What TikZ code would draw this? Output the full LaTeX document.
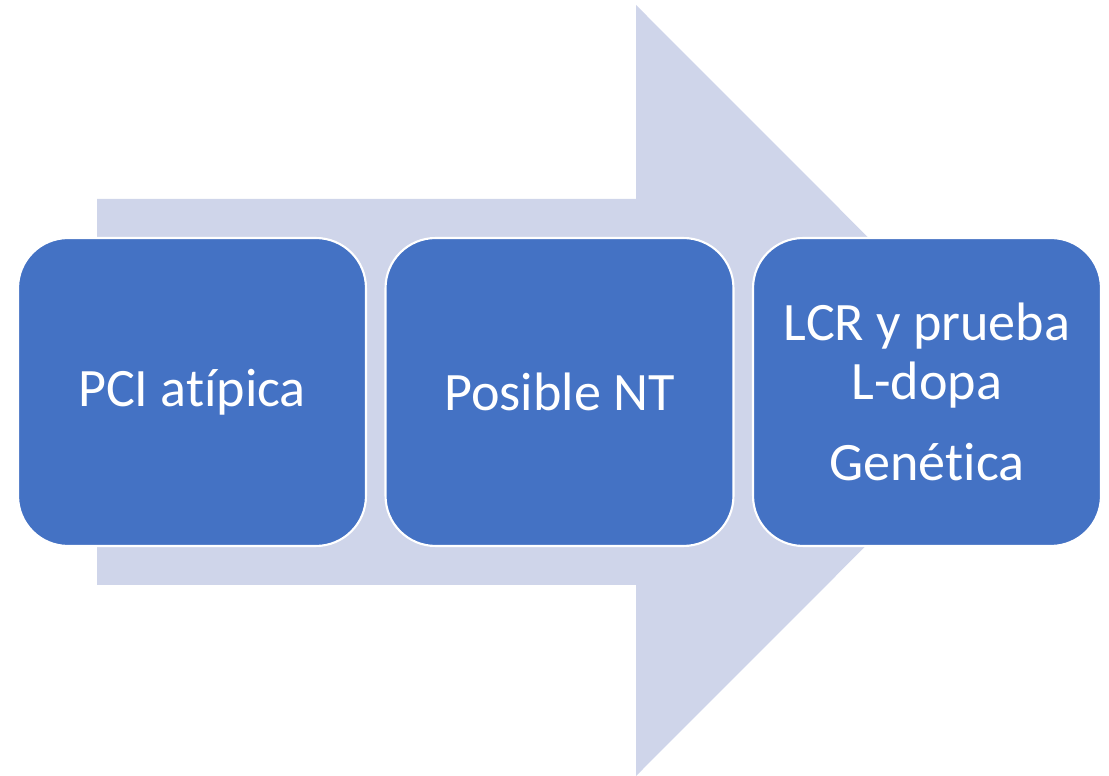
\documentclass[tikz,border=0pt]{standalone}
\usepackage{fontspec}
\setmainfont{Carlito}[Ligatures={NoCommon}]
\definecolor{arrowfill}{HTML}{CFD5EA}
\definecolor{boxfill}{HTML}{4472C4}
\begin{document}
\begin{tikzpicture}[x=0.02cm, y=-0.02cm,
    stepbox/.style={draw=white, line width=1.2pt, fill=boxfill, rounded corners=1cm,
      minimum width=6.96cm, minimum height=6.16cm, align=center, text=white,
      font=\fontsize{30.8pt}{33.5pt}\selectfont}]
      \useasboundingbox (0,0) rectangle (1109,776);
      \fill[arrowfill] (97,199) -- (636,199) -- (636,5) -- (1021,390.5) -- (636,776) -- (636,585) -- (97,585) -- cycle;
      \node[stepbox] (pci) at (192,392) {PCI atípica};
      \node[stepbox] (nt) at (559.5,392) {Posible NT};
      \node[stepbox] (lcr) at (927,392) {LCR y prueba\\L-dopa\\[12.5pt]Genética};
    \end{tikzpicture}
\end{document}
